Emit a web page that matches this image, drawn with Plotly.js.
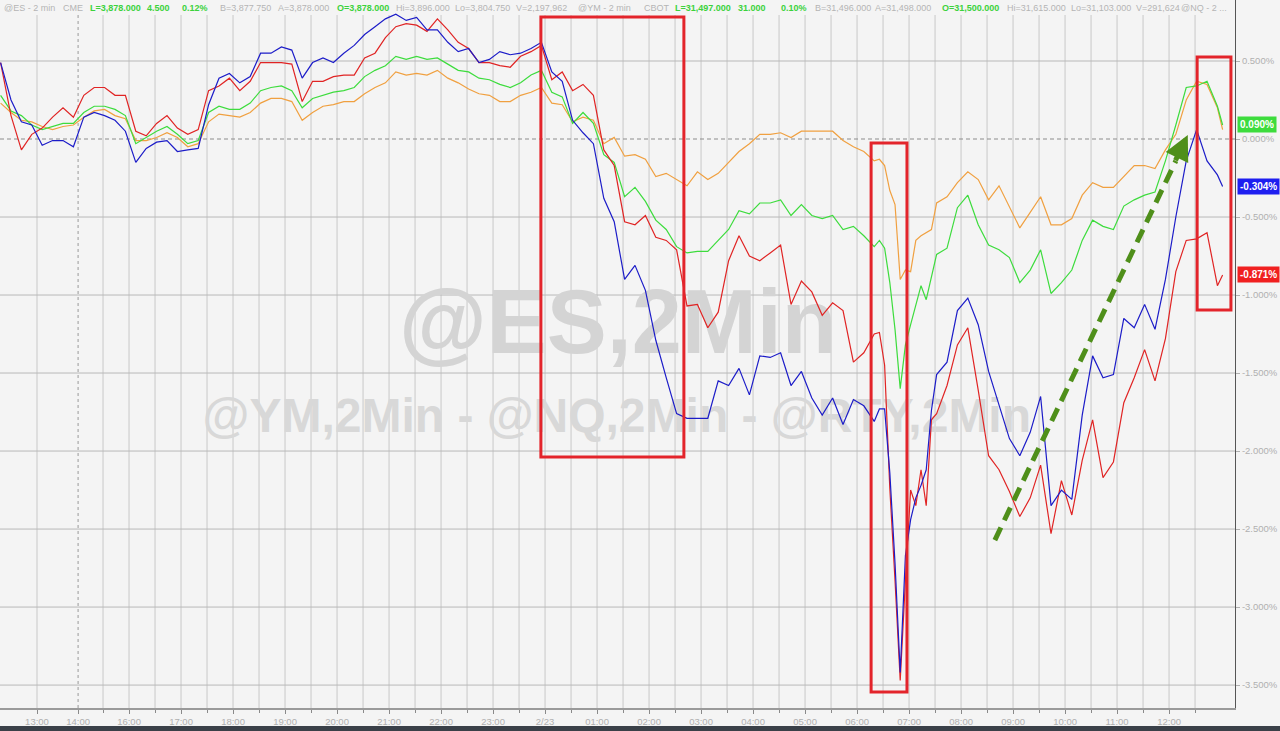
<!DOCTYPE html>
<html>
<head>
<meta charset="utf-8">
<script src="https://cdn.plot.ly/plotly-3.0.1.min.js"></script>
<style>
  html, body { margin: 0; padding: 0; background: #f4f4f4; }
  #chart { width: 1280px; height: 731px; }
</style>
</head>
<body>
<div id="chart"></div>
<script>
// ---- time axis (trading-hour index, 13:00 = 0) ----
const hourLabels = ['13:00','14:00','16:00','17:00','18:00','19:00','20:00','21:00','22:00','23:00','2/23',
  '01:00','02:00','03:00','04:00','05:00','06:00','07:00','08:00','09:00','10:00','11:00','12:00'];
const hourVals = [0, 0.79, 1.77, 2.77, 3.77, 4.77, 5.77, 6.77, 7.77, 8.77, 9.77, 10.77, 11.77,
  12.77, 13.77, 14.77, 15.77, 16.77, 17.77, 18.77, 19.77, 20.77, 21.77];
const halfVals = [];
for (let h = 1.27; h < 22.5; h += 1) halfVals.push(+h.toFixed(2));

// sample times (regular 12-min bars, finer around the 06:30 plunge)
const times = [];
for (let k = 0; k <= 84; k++) times.push(+(-0.7 + 0.2 * k).toFixed(2));
for (let k = 0; k < 12; k++) times.push(+(16.2 + 0.1 * k).toFixed(2));
for (let k = 0; k < 27; k++) times.push(+(17.5 + 0.2 * k).toFixed(2));
times.push(22.8);

// ---- series values (% change) ----
const esValues = [
  0.28, 0.18, 0.15, 0.09, 0.06, 0.08, 0.10, 0.10, 0.17, 0.21,
  0.21, 0.19, 0.15, -0.03, 0.01, 0.05, 0.08, 0.03, -0.03, -0.01,
  0.17, 0.21, 0.19, 0.19, 0.23, 0.31, 0.33, 0.34, 0.31, 0.20,
  0.26, 0.28, 0.30, 0.31, 0.33, 0.40, 0.44, 0.47, 0.53, 0.51,
  0.53, 0.51, 0.52, 0.48, 0.44, 0.43, 0.39, 0.38, 0.35, 0.33,
  0.36, 0.41, 0.44, 0.30, 0.27, 0.10, 0.17, 0.10, -0.10, -0.15,
  -0.37, -0.31, -0.40, -0.52, -0.58, -0.69, -0.73, -0.72, -0.72, -0.65,
  -0.58, -0.46, -0.48, -0.41, -0.41, -0.39, -0.49, -0.42, -0.49, -0.51,
  -0.49, -0.58, -0.56, -0.62, -0.69, -0.65, -0.70, -0.92, -1.22, -1.60,
  -1.32, -1.19, -1.06, -0.94, -1.03, -0.89, -0.74, -0.70, -0.44, -0.36,
  -0.55, -0.68, -0.71, -0.76, -0.92, -0.84, -0.71, -0.99, -0.92, -0.84,
  -0.65, -0.52, -0.56, -0.58, -0.43, -0.39, -0.36, -0.34, -0.14, 0.09,
  0.33, 0.34, 0.37, 0.21, 0.090];
const ymValues = [
  0.23, 0.17, 0.12, 0.11, 0.08, 0.06, 0.08, 0.09, 0.14, 0.18,
  0.19, 0.15, 0.13, -0.01, -0.01, 0.01, 0.04, 0.01, -0.05, -0.03,
  0.11, 0.16, 0.15, 0.14, 0.17, 0.23, 0.26, 0.26, 0.24, 0.12,
  0.17, 0.21, 0.22, 0.24, 0.24, 0.29, 0.33, 0.36, 0.43, 0.41,
  0.42, 0.41, 0.44, 0.39, 0.36, 0.32, 0.29, 0.28, 0.24, 0.24,
  0.28, 0.30, 0.33, 0.23, 0.22, 0.11, 0.14, 0.12, -0.03, 0.01,
  -0.11, -0.10, -0.13, -0.24, -0.22, -0.26, -0.30, -0.21, -0.26, -0.22,
  -0.15, -0.08, -0.03, 0.03, 0.03, 0.04, 0.01, 0.05, 0.05, 0.05,
  0.05, -0.01, -0.05, -0.08, -0.14, -0.13, -0.17, -0.33, -0.42, -0.90,
  -0.84, -0.85, -0.65, -0.62, -0.60, -0.58, -0.41, -0.37, -0.28, -0.21,
  -0.26, -0.39, -0.30, -0.44, -0.57, -0.47, -0.37, -0.55, -0.55, -0.51,
  -0.36, -0.28, -0.31, -0.31, -0.24, -0.17, -0.17, -0.19, -0.07, 0.03,
  0.25, 0.37, 0.35, 0.20, 0.06];
const nqValues = [
  0.49, 0.25, 0.11, 0.09, -0.04, -0.01, -0.01, -0.05, 0.14, 0.17,
  0.15, 0.12, 0.05, -0.15, -0.06, -0.02, -0.01, -0.08, -0.07, -0.06,
  0.22, 0.39, 0.42, 0.36, 0.40, 0.55, 0.55, 0.59, 0.57, 0.39,
  0.49, 0.52, 0.49, 0.55, 0.60, 0.67, 0.72, 0.77, 0.80, 0.76,
  0.78, 0.70, 0.70, 0.62, 0.56, 0.58, 0.49, 0.51, 0.56, 0.54,
  0.55, 0.58, 0.62, 0.43, 0.37, 0.12, 0.04, -0.03, -0.38, -0.53,
  -0.90, -0.81, -0.97, -1.29, -1.53, -1.76, -1.79, -1.79, -1.79, -1.55,
  -1.58, -1.47, -1.64, -1.39, -1.40, -1.37, -1.58, -1.49, -1.66, -1.77,
  -1.66, -1.83, -1.67, -1.71, -1.81, -1.73, -1.73, -2.14, -2.72, -3.42,
  -2.67, -2.44, -2.30, -2.22, -2.12, -1.74, -1.51, -1.43, -1.10, -1.02,
  -1.19, -1.49, -1.71, -1.92, -2.03, -1.88, -1.65, -2.35, -2.25, -2.31,
  -1.77, -1.39, -1.53, -1.51, -1.15, -1.21, -1.06, -1.22, -0.90, -0.50,
  -0.14, 0.06, -0.14, -0.23, -0.304];
const rtyValues = [
  0.49, 0.15, -0.07, 0.03, 0.07, 0.14, 0.20, 0.14, 0.28, 0.33,
  0.33, 0.28, 0.28, 0.05, 0.02, 0.10, 0.15, 0.07, 0.03, 0.06,
  0.31, 0.34, 0.39, 0.31, 0.37, 0.49, 0.49, 0.49, 0.48, 0.24,
  0.37, 0.37, 0.40, 0.41, 0.41, 0.52, 0.55, 0.65, 0.72, 0.74,
  0.73, 0.69, 0.77, 0.70, 0.62, 0.58, 0.49, 0.49, 0.47, 0.46,
  0.53, 0.56, 0.60, 0.38, 0.43, 0.31, 0.35, 0.28, -0.07, -0.17,
  -0.53, -0.55, -0.49, -0.63, -0.65, -0.71, -1.07, -1.06, -1.21, -1.11,
  -0.78, -0.62, -0.75, -0.78, -0.73, -0.68, -1.06, -0.91, -0.98, -1.13,
  -1.05, -1.10, -1.43, -1.37, -1.25, -1.24, -1.45, -2.24, -2.83, -3.47,
  -2.83, -2.25, -2.35, -2.12, -2.35, -1.80, -1.76, -1.58, -1.32, -1.21,
  -1.61, -2.03, -2.12, -2.26, -2.42, -2.30, -2.09, -2.53, -2.19, -2.41,
  -2.06, -1.80, -2.17, -2.07, -1.69, -1.53, -1.35, -1.55, -1.28, -0.85,
  -0.65, -0.64, -0.60, -0.94, -0.871];

const yTickVals = [0.5, 0, -0.5, -1, -1.5, -2, -2.5, -3, -3.5];
const yTickText = yTickVals.map(v => v.toFixed(3) + '%');

const headerSegs = [
  ['@ES - 2 min', 2, false], ['CME', 61, false], ['L=3,878.000', 88, true], ['4.500', 145, true],
  ['0.12%', 180, true], ['B=3,877.750', 218, false], ['A=3,878.000', 276, false], ['O=3,878.000', 335, true],
  ['Hi=3,896.000', 394, false], ['Lo=3,804.750', 453, false], ['V=2,197,962', 514, false], ['@YM - 2 min', 576, false],
  ['CBOT', 642, false], ['L=31,497.000', 673, true], ['31.000', 736, true], ['0.10%', 779, true],
  ['B=31,496.000', 813, false], ['A=31,498.000', 873, false], ['O=31,500.000', 940, true], ['Hi=31,615.000', 1005, false],
  ['Lo=31,103.000', 1069, false], ['V=291,624', 1134, false], ['@NQ - 2 ...', 1179, false]
];

// ---- styling ----
const XR = [-0.7115, 23.038], YR = [-3.647, 0.891];
const PW = 1235, PH = 708;
const colors = { es: '#3ddc3d', ym: '#f0a040', nq: '#1c1cc8', rty: '#e02424' };
const FONT = 'Liberation Sans, Arial, sans-serif';

const traces = [
  { x: [11.17], y: [-1.23], mode: 'text', text: ['@ES,2Min'], textposition: 'middle center',
    textfont: { family: FONT, size: 90, color: '#d4d4d4', weight: 'bold' }, hoverinfo: 'skip', showlegend: false },
  { x: [11.15], y: [-1.80], mode: 'text', text: ['@YM,2Min - @NQ,2Min - @RTY,2Min'], textposition: 'middle center',
    textfont: { family: FONT, size: 48, color: '#d8d8d8', weight: 'bold' }, hoverinfo: 'skip', showlegend: false },
  { name: 'YM', x: times, y: ymValues, mode: 'lines', line: { color: colors.ym, width: 1.2 } },
  { name: 'ES', x: times, y: esValues, mode: 'lines', line: { color: colors.es, width: 1.2 } },
  { name: 'RTY', x: times, y: rtyValues, mode: 'lines', line: { color: colors.rty, width: 1.2 } },
  { name: 'NQ', x: times, y: nqValues, mode: 'lines', line: { color: colors.nq, width: 1.2 } }
];

const shapes = [];
// vertical grid
[0, ...hourVals.slice(2), ...halfVals].forEach(v => shapes.push({
  type: 'line', xref: 'x', yref: 'paper', x0: v, x1: v, y0: 0, y1: 1, layer: 'below',
  line: { color: '#c8c8c8', width: 1 } }));
shapes.push({ type: 'line', xref: 'x', yref: 'paper', x0: hourVals[1], x1: hourVals[1], y0: 0, y1: 1, layer: 'below',
  line: { color: '#9a9a9a', width: 1, dash: '3px,3px' } });
// horizontal grid
yTickVals.forEach(v => shapes.push({
  type: 'line', xref: 'paper', yref: 'y', x0: 0, x1: 1, y0: v, y1: v, layer: 'below',
  line: v === 0 ? { color: '#8c8c8c', width: 1, dash: '4px,3px' } : { color: '#b8b8b8', width: 1 } }));
// header strip
shapes.push({ type: 'rect', xref: 'paper', yref: 'paper', x0: 0, x1: 1, y0: 1 - 15 / PH, y1: 1, layer: 'below',
  fillcolor: '#f4f4f4', line: { width: 0 } });
// red highlight boxes
[[9.69, 12.44, 0.782, -2.038], [16.04, 16.73, -0.026, -3.545], [22.31, 22.96, 0.526, -1.096]].forEach(r => shapes.push({
  type: 'rect', xref: 'x', yref: 'y', x0: r[0], x1: r[1], y0: r[2], y1: r[3], layer: 'above',
  line: { color: '#e3242b', width: 3 }, fillcolor: 'rgba(0,0,0,0)' }));
// green dashed trend arrow
shapes.push({ type: 'line', xref: 'x', yref: 'y', x0: 18.42, y0: -2.571, x1: 21.9, y1: -0.14, layer: 'above',
  line: { color: '#4f8f1a', width: 5, dash: '14px,8px' } });
// bottom scroll strip
shapes.push({ type: 'rect', xref: 'paper', yref: 'paper', x0: 0, x1: 1280 / PW, y0: -18 / PH, y1: -23 / PH,
  fillcolor: '#3a4048', line: { width: 0 } });

const annotations = headerSegs.map(s => ({
  xref: 'paper', yref: 'paper', x: s[1] / PW, y: 1, xanchor: 'left', yanchor: 'middle', yshift: -8,
  showarrow: false, text: s[2] ? '<b>' + s[0] + '</b>' : s[0],
  font: { family: FONT, size: 9, color: s[2] ? '#3cd23c' : '#b4b4b4' }
}));
annotations.push({ xref: 'x', yref: 'y', x: 22.13, y: 0.026, axref: 'x', ayref: 'y', ax: 21.88, ay: -0.147,
  showarrow: true, arrowhead: 2, arrowsize: 1, arrowwidth: 5, arrowcolor: '#4f8f1a', text: '' });
[[esValues, colors.es], [nqValues, '#1e1ef0'], [rtyValues, '#f02020']].forEach(([arr, c]) => {
  const v = arr[arr.length - 1];
  annotations.push({ xref: 'paper', yref: 'y', x: 1, y: v, xanchor: 'left', yanchor: 'middle', xshift: 2,
    showarrow: false, text: '<b>' + v.toFixed(3) + '%</b>', bgcolor: c, borderpad: 2,
    font: { family: FONT, size: 10, color: '#ffffff' } });
});

const layout = {
  width: 1280, height: 731,
  margin: { l: 0, r: 1280 - PW, t: 0, b: 731 - PH },
  paper_bgcolor: '#f4f4f4', plot_bgcolor: '#f4f4f4',
  showlegend: false, hovermode: false,
  xaxis: {
    range: XR, showgrid: false, zeroline: false, tickmode: 'array', tickvals: hourVals, ticktext: hourLabels,
    ticks: 'outside', ticklen: 4, tickcolor: '#8a8a8a', showline: true, linecolor: '#9a9a9a', linewidth: 2,
    tickfont: { family: FONT, size: 9.5, color: '#b0b0b0' },
    minor: { tickmode: 'array', tickvals: halfVals, ticks: 'outside', ticklen: 3, tickcolor: '#8a8a8a', showgrid: false }
  },
  yaxis: {
    range: YR, side: 'right', showgrid: false, zeroline: false, tickmode: 'array', tickvals: yTickVals, ticktext: yTickText,
    ticks: 'outside', ticklen: 4, tickcolor: '#b0b0b0', showline: true, linecolor: '#555555', linewidth: 1,
    tickfont: { family: FONT, size: 9.5, color: '#b0b0b0' }
  },
  shapes: shapes,
  annotations: annotations
};

Plotly.newPlot('chart', traces, layout, { displayModeBar: false, staticPlot: true });
</script>
</body>
</html>
